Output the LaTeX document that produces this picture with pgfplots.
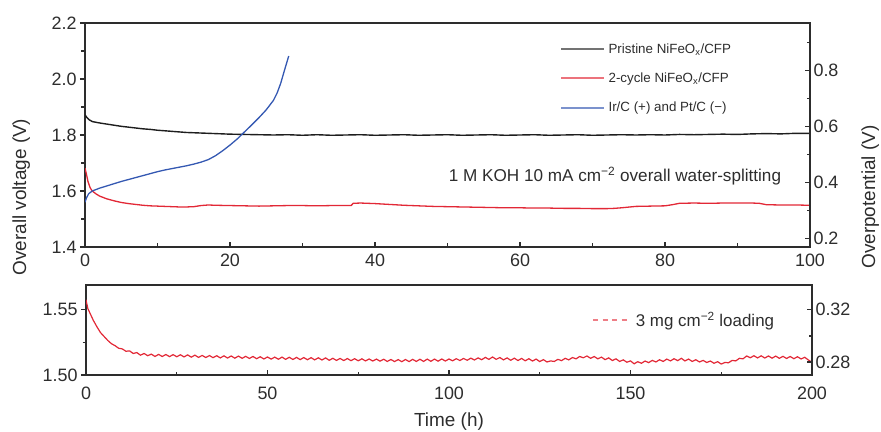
\documentclass[border=0pt]{standalone}
\usepackage{fontspec}
\setmainfont{Liberation Sans}
\usepackage{pgfplots}
\pgfplotsset{compat=1.18}

\definecolor{cred}{RGB}{226,40,54}
\definecolor{cblue}{RGB}{52,88,178}
\definecolor{cblack}{RGB}{30,30,30}
\definecolor{axgray}{RGB}{45,45,45}

\pgfplotsset{
  base/.style={
    scale only axis,
    axis line style={line width=1.8bp, axgray},
    every tick/.style={line width=1.4bp, axgray},
    major tick length=5bp, minor tick length=3.5bp,
    tick label style={font=\fontsize{18}{20}\selectfont, text=axgray},
    /pgf/number format/assume math mode=true,
    label style={font=\fontsize{19}{22}\selectfont, text=axgray},
  }
}

\begin{document}
\begin{tikzpicture}
\path[use as bounding box] (0bp,0bp) rectangle (881bp,-432bp);

% ---- top panel, left scale
\begin{axis}[base,
  at={(85bp,-23bp)}, anchor=north west, width=725bp, height=224bp,
  xmin=0, xmax=100, ymin=1.4, ymax=2.2,
  xtick={0,20,40,60,80,100}, minor xtick={10,30,50,70,90},
  ytick={1.4,1.6,1.8,2.0,2.2}, yticklabels={1.4,1.6,1.8,2.0,2.2},
  minor ytick={1.5,1.7,1.9,2.1},
  xtick pos=bottom, ytick pos=left,
  xtick align=inside, ytick align=outside,
  xticklabel style={yshift=-3bp},
  ylabel={Overall voltage (V)},
  ylabel style={at={(axis description cs:-0.088,0.223)}, anchor=center},
  legend style={at={(0.655,0.915)}, anchor=north west, draw=none, fill=none,
    font=\fontsize{13.4}{15}\selectfont, text=axgray,
    row sep=15bp, column sep=2bp, inner sep=0pt, nodes={inner sep=1.5bp}},
  legend cell align=left,
  legend image code/.code={\draw[#1] (0bp,0bp) -- (43bp,0bp);},
]
\addlegendimage{black!55, line width=2bp}
\addlegendentry{Pristine NiFeO\textsubscript{x}/CFP}
\addlegendimage{cred!65, line width=2bp}
\addlegendentry{2-cycle NiFeO\textsubscript{x}/CFP}
\addlegendimage{cblue!65, line width=2bp}
\addlegendentry{Ir/C (+) and Pt/C (−)}

% Pristine NiFeOx/CFP
\addplot[cblack, line width=1.4bp, forget plot] coordinates {
 (0,1.872) (0.3,1.861) (0.6,1.854) (1,1.848) (2,1.843) (3,1.839) (4,1.835)
 (5,1.831) (6,1.828) (7,1.825) (8,1.822) (9,1.820) (10,1.817) (11,1.815)
 (12,1.813) (13,1.811) (14,1.809) (15,1.808) (16,1.807) (18,1.805) (20,1.803)
 (22,1.802) (24,1.801) (26,1.800) (28,1.801) (30,1.799) (32,1.801) (34,1.799)
 (36,1.800) (38,1.801) (40,1.799) (42,1.800) (44,1.801) (46,1.799) (48,1.800)
 (50,1.801) (52,1.799) (54,1.800) (56,1.801) (58,1.799) (60,1.800) (62,1.801)
 (64,1.799) (66,1.800) (68,1.801) (70,1.799) (72,1.800) (74,1.801) (76,1.800)
 (78,1.801) (80,1.800) (82,1.802) (84,1.801) (86,1.802) (88,1.803) (90,1.802)
 (92,1.804) (94,1.805) (96,1.804) (98,1.806) (100,1.806) };
% 2-cycle NiFeOx/CFP
\addplot[cred, line width=1.3bp, forget plot] coordinates {
 (0,1.682) (0.2,1.660) (0.4,1.635) (0.7,1.612) (1,1.600) (1.5,1.590) (2,1.582)
 (3,1.572) (4,1.565) (5,1.559) (6,1.555) (7,1.552) (8,1.549) (9,1.547)
 (10,1.546) (11,1.545) (12,1.544) (13,1.543) (14,1.543) (15,1.544) (16,1.548)
 (17,1.550) (18,1.549) (20,1.548) (22,1.547) (24,1.546) (26,1.547) (28,1.548)
 (30,1.548) (32,1.547) (34,1.548) (36,1.548) (36.7,1.548) (37,1.556) (38,1.557)
 (40,1.555) (42,1.552) (44,1.549) (46,1.547) (48,1.545) (50,1.544) (52,1.543)
 (54,1.542) (56,1.541) (58,1.540) (60,1.540) (62,1.539) (64,1.539) (66,1.538)
 (68,1.538) (70,1.537) (72,1.537) (73,1.538) (74,1.540) (76,1.545) (78,1.546)
 (80,1.547) (81,1.551) (82,1.556) (84,1.557) (86,1.556) (88,1.557) (90,1.557)
 (92,1.557) (93,1.556) (94,1.551) (96,1.550) (98,1.550) (100,1.549) };
% Ir/C (+) and Pt/C (-)
\addplot[cblue, line width=1.3bp, forget plot] coordinates {
 (0,1.560) (0.2,1.575) (0.5,1.590) (1,1.600) (2,1.610) (3,1.618) (4,1.626)
 (5,1.634) (6,1.641) (7,1.648) (8,1.655) (9,1.662) (10,1.669) (11,1.675)
 (12,1.680) (13,1.685) (14,1.690) (15,1.696) (16,1.703) (17,1.712) (18,1.726)
 (19,1.744) (20,1.764) (21,1.786) (22,1.811) (23,1.836) (24,1.862) (25,1.890)
 (26,1.924) (26.5,1.950) (27,1.985) (27.5,2.030) (28.1,2.082) };

\node[font=\fontsize{17.2}{19}\selectfont, text=axgray] at (axis cs:73.1,1.654)
  {1 M KOH 10 mA cm\textsuperscript{−2} overall water-splitting};
\end{axis}

% ---- top panel, right scale
\begin{axis}[base,
  at={(85bp,-23bp)}, anchor=north west, width=725bp, height=224bp,
  xmin=0, xmax=100, ymin=0.17, ymax=0.97,
  axis x line=none, axis y line*=right,
  ytick={0.2,0.4,0.6,0.8}, yticklabels={0.2,0.4,0.6,0.8},
  minor ytick={0.3,0.5,0.7,0.9},
  ytick align=inside,
  ylabel={Overpotential (V)},
  ylabel style={at={(axis description cs:1.083,0.223)}, anchor=center, rotate=0},
]
\end{axis}

% ---- bottom panel, left scale
\begin{axis}[base,
  at={(86bp,-285bp)}, anchor=north west, width=726bp, height=90bp,
  xmin=0, xmax=200, ymin=1.50, ymax=1.569,
  xtick={0,50,100,150,200}, minor xtick={25,75,125,175},
  ytick={1.50,1.55}, yticklabels={1.50,1.55}, minor ytick={1.525},
  xtick pos=bottom, ytick pos=left,
  xtick align=inside, ytick align=outside,
  xticklabel style={yshift=-8bp},
  xlabel={Time (h)},
  xlabel style={at={(axis description cs:0.5,-0.52)}, anchor=center},
  legend style={at={(0.697,0.61)}, anchor=west, draw=none, fill=none,
    font=\fontsize{17}{19}\selectfont, text=axgray,
    column sep=6bp, inner sep=0pt, nodes={inner sep=2bp}},
  legend image code/.code={\draw[#1] (0bp,0bp) -- (34bp,0bp);},
]
\addlegendimage{cred!60, line width=1.6bp, dash pattern=on 5bp off 4.5bp}
\addlegendentry{3 mg cm\textsuperscript{−2} loading}

\addplot[cred, line width=1.2bp, forget plot] coordinates {
 (0,1.5577) (0.5,1.5510) (1,1.5480) (2,1.5420) (3,1.5370) (4,1.5325) (5,1.5295)
 (6,1.5265) (7,1.5240) (8,1.5225) (9,1.5205) (10,1.5200) (11,1.5182) (12,1.5185)
 (13,1.5165) (14,1.5172) (15,1.5152) (16,1.5165) (17,1.5148) (18,1.5160)
 (19,1.5142) (20,1.5158) (21,1.5142) (22,1.5157) (23,1.5141) (24,1.5156)
 (25,1.5140) (26,1.5155) (27,1.5139) (28,1.5154) (29,1.5137) (30,1.5152)
 (31,1.5135) (32,1.5150) (33,1.5134) (34,1.5149) (35,1.5133) (36,1.5148)
 (37,1.5131) (38,1.5147) (39,1.5130) (40,1.5146) (41,1.5129) (42,1.5145)
 (43,1.5128) (44,1.5143) (45,1.5127) (46,1.5142) (47,1.5125) (48,1.5140)
 (49,1.5123) (50,1.5138) (51,1.5122) (52,1.5137) (53,1.5121) (54,1.5137)
 (55,1.5120) (56,1.5136) (57,1.5119) (58,1.5135) (59,1.5118) (60,1.5134)
 (61,1.5117) (62,1.5133) (63,1.5116) (64,1.5132) (65,1.5115) (66,1.5131)
 (67,1.5113) (68,1.5128) (69,1.5112) (70,1.5127) (71,1.5111) (72,1.5126)
 (73,1.5110) (74,1.5125) (75,1.5109) (76,1.5124) (77,1.5108) (78,1.5123)
 (79,1.5107) (80,1.5122) (81,1.5106) (82,1.5121) (83,1.5104) (84,1.5119)
 (85,1.5103) (86,1.5118) (87,1.5102) (88,1.5119) (89,1.5103) (90,1.5120)
 (91,1.5104) (92,1.5121) (93,1.5104) (94,1.5122) (95,1.5105) (96,1.5122)
 (97,1.5106) (98,1.5123) (99,1.5107) (100,1.5123) (101,1.5109) (102,1.5125)
 (103,1.5111) (104,1.5127) (105,1.5113) (106,1.5129) (107,1.5115) (108,1.5131)
 (109,1.5117) (110,1.5135) (111,1.5120) (112,1.5138) (113,1.5120) (114,1.5134)
 (115,1.5116) (116,1.5131) (117,1.5113) (118,1.5129) (119,1.5111) (120,1.5127)
 (121,1.5109) (122,1.5125) (123,1.5107) (124,1.5122) (125,1.5103) (126,1.5118)
 (127,1.5100) (128,1.5108) (129,1.5104) (130,1.5120) (131,1.5110) (132,1.5128)
 (133,1.5116) (134,1.5134) (135,1.5124) (136,1.5142) (137,1.5132) (138,1.5146)
 (139,1.5128) (140,1.5142) (141,1.5124) (142,1.5137) (143,1.5118) (144,1.5131)
 (145,1.5111) (146,1.5124) (147,1.5104) (148,1.5116) (149,1.5098) (150,1.5108)
 (151,1.5086) (152,1.5102) (153,1.5090) (154,1.5107) (155,1.5095) (156,1.5112)
 (157,1.5100) (158,1.5117) (159,1.5104) (160,1.5122) (161,1.5108) (162,1.5125)
 (163,1.5110) (164,1.5128) (165,1.5108) (166,1.5122) (167,1.5104) (168,1.5117)
 (169,1.5100) (170,1.5112) (171,1.5096) (172,1.5107) (173,1.5090) (174,1.5102)
 (175,1.5084) (176,1.5096) (177,1.5094) (178,1.5112) (179,1.5108) (180,1.5128)
 (181,1.5124) (182,1.5146) (183,1.5132) (184,1.5148) (185,1.5131) (186,1.5147)
 (187,1.5130) (188,1.5146) (189,1.5129) (190,1.5145) (191,1.5128) (192,1.5143)
 (193,1.5127) (194,1.5142) (195,1.5125) (196,1.5140) (197,1.5123) (198,1.5136)
 (199,1.5115) (200,1.5098) };
\end{axis}

% ---- bottom panel, right scale
\begin{axis}[base,
  at={(86bp,-285bp)}, anchor=north west, width=726bp, height=90bp,
  xmin=0, xmax=200, ymin=0.27, ymax=0.339,
  axis x line=none, axis y line*=right,
  ytick={0.28,0.32}, yticklabels={0.28,0.32}, minor ytick={0.30},
  ytick align=inside,
]
\end{axis}
\end{tikzpicture}
\end{document}
